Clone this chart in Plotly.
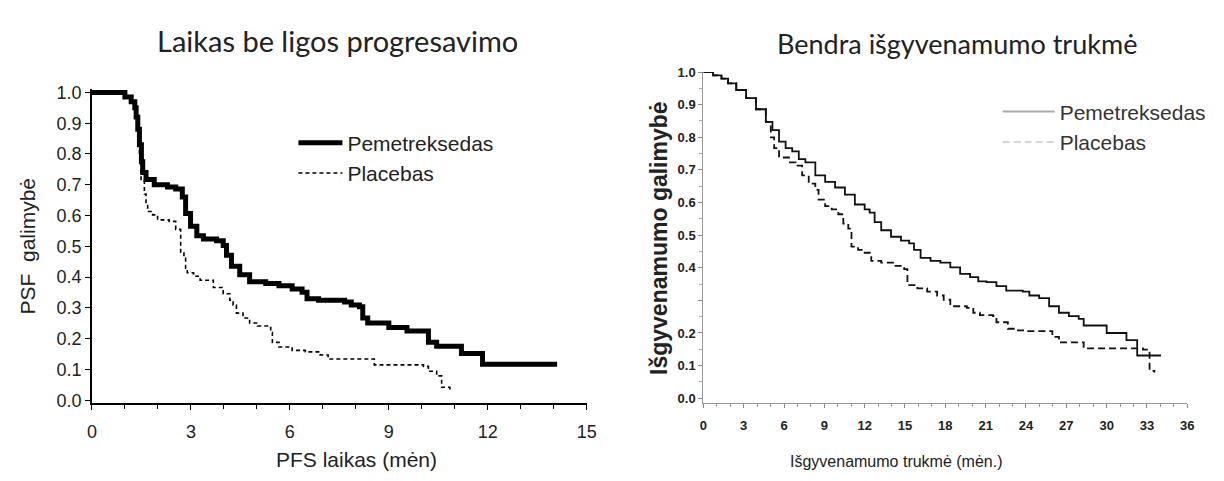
import plotly.graph_objects as go

# ---------------- Data ----------------
# Left: progression-free survival (months, probability)
pfs_pem_t = [0, 0.8, 1.0, 1.19, 1.3, 1.34, 1.39, 1.44, 1.5, 1.54, 1.64, 1.89, 2.29, 2.54, 2.74, 2.84,
             2.99, 3.18, 3.38, 3.78, 3.98, 4.08, 4.23, 4.48, 4.78, 5.27, 5.67, 6.07, 6.37, 6.52,
             6.87, 7.66, 7.86, 8.11, 8.21, 8.36, 9.0, 9.55, 10.2, 10.45, 11.2, 11.84, 14.1]
pfs_pem_s = [1.0, 1.0, 0.985, 0.97, 0.95, 0.92, 0.88, 0.83, 0.775, 0.74, 0.717, 0.70, 0.693, 0.686,
             0.66, 0.607, 0.565, 0.534, 0.524, 0.518, 0.503, 0.471, 0.435, 0.408, 0.385, 0.379,
             0.372, 0.361, 0.351, 0.33, 0.325, 0.319, 0.309, 0.304, 0.267, 0.251, 0.236, 0.225,
             0.188, 0.175, 0.152, 0.117, 0.117]
pfs_pla_t = [0, 0.8, 1.0, 1.19, 1.3, 1.34, 1.39, 1.44, 1.49, 1.59, 1.64, 1.69, 1.84, 1.99, 2.34,
             2.54, 2.69, 2.79, 2.84, 2.89, 3.08, 3.28, 3.68, 3.98, 4.18, 4.28, 4.38, 4.58, 4.78,
             5.02, 5.37, 5.42, 5.47, 5.67, 6.07, 6.47, 6.92, 7.16, 8.56, 10.05, 10.2, 10.45,
             10.6, 10.85]
pfs_pla_s = [1.0, 1.0, 0.985, 0.97, 0.95, 0.92, 0.88, 0.80, 0.717, 0.67, 0.639, 0.613, 0.602,
             0.586, 0.581, 0.555, 0.482, 0.461, 0.429, 0.414, 0.403, 0.39, 0.366, 0.346, 0.325,
             0.309, 0.283, 0.267, 0.251, 0.241, 0.236, 0.22, 0.188, 0.173, 0.162, 0.157, 0.147,
             0.134, 0.115, 0.11, 0.094, 0.079, 0.042, 0.034]

# Right: overall survival (months, probability)
os_pem_t = [0, 0.73, 1.35, 1.84, 2.45, 3.18, 3.92, 4.65, 5.14, 5.63, 6.12, 6.61, 7.1, 7.59, 8.33,
            9.06, 9.8, 10.53, 11.27, 12.0, 12.37, 12.74, 13.23, 13.96, 14.7, 15.31, 15.67, 16.16,
            16.9, 17.63, 18.37, 19.1, 19.84, 20.45, 21.06, 21.8, 22.53, 23.76, 24.25, 24.98,
            25.72, 26.45, 27.19, 27.92, 28.29, 30.0, 31.47, 32.27, 34.04]
os_pem_s = [1.0, 0.99, 0.98, 0.965, 0.945, 0.92, 0.886, 0.847, 0.822, 0.787, 0.767, 0.757, 0.733,
            0.723, 0.683, 0.663, 0.646, 0.624, 0.594, 0.579, 0.569, 0.54, 0.515, 0.495, 0.483,
            0.475, 0.455, 0.43, 0.421, 0.416, 0.401, 0.381, 0.371, 0.358, 0.356, 0.344, 0.33,
            0.327, 0.315, 0.307, 0.282, 0.262, 0.252, 0.243, 0.223, 0.2, 0.178, 0.131, 0.131]
os_pla_t = [0, 0.73, 1.35, 1.84, 2.45, 3.18, 3.92, 4.65, 5.02, 5.27, 5.63, 6.37, 6.86, 7.35, 7.84,
            8.33, 8.57, 9.06, 9.55, 10.04, 10.41, 10.78, 11.02, 11.51, 12.0, 12.49, 13.23, 14.2,
            14.94, 15.18, 15.92, 16.65, 17.39, 17.88, 18.37, 19.6, 20.08, 20.57, 21.55, 21.8,
            22.65, 23.27, 24.0, 25.96, 26.45, 28.29, 32.7, 33.19, 33.55]
os_pla_s = [1.0, 0.99, 0.98, 0.965, 0.945, 0.92, 0.886, 0.847, 0.80, 0.767, 0.738, 0.723, 0.713,
            0.683, 0.658, 0.639, 0.609, 0.589, 0.579, 0.564, 0.535, 0.52, 0.465, 0.455, 0.446,
            0.421, 0.416, 0.406, 0.396, 0.347, 0.337, 0.327, 0.315, 0.302, 0.282, 0.277, 0.262,
            0.255, 0.252, 0.233, 0.213, 0.208, 0.206, 0.188, 0.171, 0.153, 0.149, 0.084, 0.079]

pfs_xticks = [0, 3, 6, 9, 12, 15]
pfs_yticks = [0.0, 0.1, 0.2, 0.3, 0.4, 0.5, 0.6, 0.7, 0.8, 0.9, 1.0]
os_xticks = [0, 3, 6, 9, 12, 15, 18, 21, 24, 27, 30, 33, 36]
os_yticks = [0.0, 0.1, 0.2, 0.3, 0.4, 0.5, 0.6, 0.7, 0.8, 0.9, 1.0]
os_ytext = ["0.0", "0.1", "0.2", "", "0.4", "0.5", "0.6", "0.7", "0.8", "0.9", "1.0"]

names = ["Pemetreksedas", "Placebas"]
titles = ["Laikas be ligos progresavimo", "Bendra išgyvenamumo trukmė"]

FONT = "Liberation Sans, Arial, sans-serif"
TFONT = "Lato, Open Sans, sans-serif"

fig = go.Figure()

# Left chart
fig.add_trace(go.Scatter(x=pfs_pem_t, y=pfs_pem_s, mode="lines", line=dict(shape="hv", color="black", width=5),
                         name=names[0], legend="legend", legendgroup="a", xaxis="x", yaxis="y"))
fig.add_trace(go.Scatter(x=pfs_pla_t, y=pfs_pla_s, mode="lines",
                         line=dict(shape="hv", color="black", width=1.6, dash="4px,3px"),
                         name=names[1], legend="legend", legendgroup="b", xaxis="x", yaxis="y"))

# Right chart
fig.add_trace(go.Scatter(x=os_pem_t, y=os_pem_s, mode="lines", line=dict(shape="hv", color="#111", width=1.8),
                         name=names[0], showlegend=False, xaxis="x2", yaxis="y2"))
fig.add_trace(go.Scatter(x=os_pla_t, y=os_pla_s, mode="lines",
                         line=dict(shape="hv", color="#111", width=1.8, dash="7px,4px"),
                         name=names[1], showlegend=False, xaxis="x2", yaxis="y2"))
# legend entries for right chart (gray samples as in the reference)
fig.add_trace(go.Scatter(x=[None], y=[None], mode="lines", line=dict(color="#aaaaaa", width=2),
                         name=names[0], legend="legend2", legendgroup="c", xaxis="x2", yaxis="y2"))
fig.add_trace(go.Scatter(x=[None], y=[None], mode="lines", line=dict(color="#c8c8c8", width=1.5, dash="7px,4px"),
                         name=names[1], legend="legend2", legendgroup="d", xaxis="x2", yaxis="y2"))

W, H = 1224, 481

fig.update_layout(
    width=W, height=H, margin=dict(l=0, r=0, t=0, b=0),
    paper_bgcolor="white", plot_bgcolor="white",
    font=dict(family=FONT, color="#222"),
    xaxis=dict(domain=[88 / W, 589 / W], range=[0, 15], tickvals=pfs_xticks,
               ticks="outside", ticklen=5, tickcolor="black", showline=True, linecolor="black", linewidth=1.5,
               showgrid=False, zeroline=False, tickfont=dict(size=18, color="#222"), ticklabelstandoff=6,
               minor=dict(dtick=1, ticks="outside", ticklen=4, tickcolor="black", showgrid=False),
               anchor="y", fixedrange=True),
    yaxis=dict(domain=[(H - 408.2) / H, (H - 84.8) / H], range=[-0.01, 1.01], tickvals=pfs_yticks,
               tickformat=".1f", ticks="outside", ticklen=5, tickcolor="black", showline=True,
               linecolor="black", linewidth=1.5, showgrid=False, zeroline=False,
               tickfont=dict(size=18, color="#222"), anchor="x", fixedrange=True),
    xaxis2=dict(domain=[707 / W, 1197 / W], range=[0, 36], tickvals=os_xticks,
                ticks="outside", ticklen=4, tickcolor="#888", showline=True, linecolor="#999", linewidth=1.2,
                showgrid=False, zeroline=False, tickfont=dict(size=13, color="#222", weight="bold"),
                ticklabelstandoff=6,
                minor=dict(dtick=1, ticks="outside", ticklen=3, tickcolor="#999", showgrid=False),
                anchor="y2", fixedrange=True),
    yaxis2=dict(domain=[(H - 408) / H, (H - 67) / H], range=[-0.015, 1.0], tickvals=os_yticks,
                ticktext=os_ytext, ticks="outside", ticklen=4, tickcolor="#888", showline=True,
                linecolor="#999", linewidth=1.2, showgrid=False, zeroline=False,
                tickfont=dict(size=13, color="#222", weight="bold"),
                minor=dict(dtick=0.05, ticks="outside", ticklen=3, tickcolor="#aaa", showgrid=False),
                anchor="x2", fixedrange=True),
    legend=dict(x=292 / W, y=(H - 119) / H, xanchor="left", yanchor="top", bgcolor="rgba(0,0,0,0)",
                font=dict(size=21, family=FONT, color="#222"), itemwidth=44, tracegroupgap=6,
                traceorder="normal"),
    legend2=dict(x=1005 / W, y=(H - 87) / H, xanchor="left", yanchor="top", bgcolor="rgba(0,0,0,0)",
                 font=dict(size=21, family=FONT, color="#333"), itemwidth=52, tracegroupgap=8,
                 traceorder="normal"),
    annotations=[
        dict(text=titles[0], x=337 / W, y=(H - 34) / H, xref="paper", yref="paper", showarrow=False,
             font=dict(size=29, family=TFONT, color="#222"), xanchor="center", yanchor="middle"),
        dict(text=titles[1], x=964 / W, y=(H - 38) / H, xref="paper", yref="paper", showarrow=False,
             font=dict(size=27, family=TFONT, color="#222"), xanchor="center", yanchor="middle"),
        dict(text="PFS laikas (mėn)", x=356 / W, y=(H - 466) / H, xref="paper", yref="paper",
             showarrow=False, font=dict(size=21, family=FONT, color="#222"), xanchor="center", yanchor="middle"),
        dict(text="PSF&nbsp;&nbsp;galimybė", x=23 / W, y=(H - 246) / H, xref="paper", yref="paper", textangle=-90,
             showarrow=False, font=dict(size=21, family=FONT, color="#222"), xanchor="center", yanchor="middle"),
        dict(text="Išgyvenamumo trukmė (mėn.)", x=903 / W, y=(H - 468) / H, xref="paper", yref="paper",
             showarrow=False, font=dict(size=16, family=FONT, color="#222"), xanchor="center", yanchor="middle"),
        dict(text="Išgyvenamumo galimybė", x=662 / W, y=(H - 238) / H, xref="paper", yref="paper", textangle=-90,
             showarrow=False, font=dict(size=23, family=FONT, color="#222", weight="bold"),
             xanchor="center", yanchor="middle"),
    ],
)

fig.write_html("out.html")
